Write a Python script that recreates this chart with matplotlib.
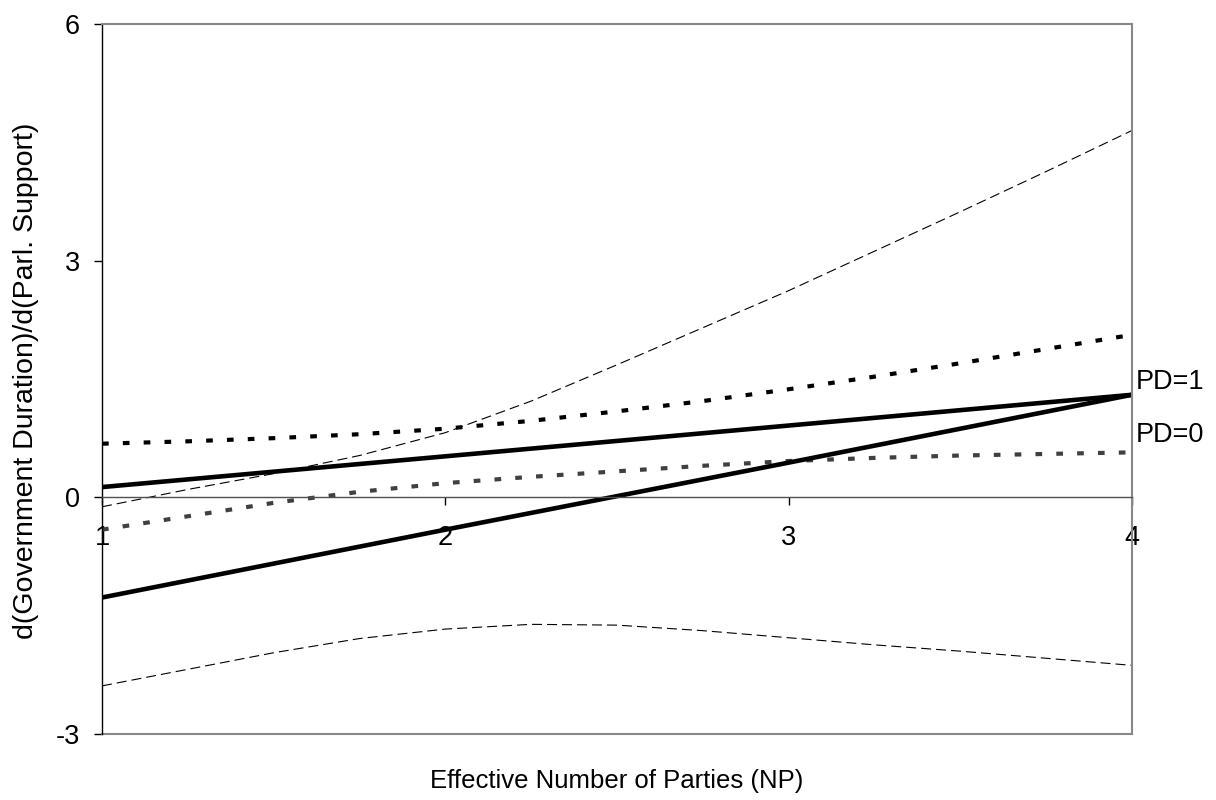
import matplotlib.pyplot as plt

plt.rcParams["font.family"] = ["Liberation Sans", "DejaVu Sans"]
plt.rcParams["axes.unicode_minus"] = False

# effective number of parties, grid where the bounds were evaluated
np_grid = [1.0, 1.25, 1.5, 1.75, 2.0, 2.25, 2.5, 2.75, 3.0, 3.25, 3.5, 3.75, 4.0]

# marginal effect lines
np_line = [1, 2, 3, 4]
effect_pd1 = [0.13, 0.52, 0.91, 1.30]
effect_pd0 = [-1.27, -0.41, 0.44, 1.30]

# confidence bounds, PD=1
upper_pd1 = [0.68, 0.71, 0.75, 0.80, 0.87, 0.97, 1.09, 1.22, 1.37, 1.53, 1.70, 1.88, 2.06]
lower_pd1 = [-0.41, -0.24, -0.07, 0.07, 0.18, 0.26, 0.33, 0.40, 0.46, 0.50, 0.53, 0.55, 0.57]

# confidence bounds, PD=0
upper_pd0 = [-0.12, 0.10, 0.30, 0.53, 0.82, 1.22, 1.68, 2.15, 2.62, 3.12, 3.62, 4.13, 4.65]
lower_pd0 = [-2.39, -2.18, -1.97, -1.79, -1.67, -1.61, -1.62, -1.69, -1.78, -1.87, -1.95, -2.04, -2.13]

y_ticks = [-3, 0, 3, 6]
x_ticks = [1, 2, 3, 4]

fig = plt.figure(figsize=(12.16, 8), dpi=100)
ax = fig.add_axes([0.0839, 0.0825, 0.847, 0.8875])

# thin dashed bounds for PD=0
for vals in (upper_pd0, lower_pd0):
    ax.plot(np_grid, vals, color="black", lw=0.8, linestyle=(0, (9, 4.5)))

# heavy dotted bounds for PD=1
ax.plot(np_grid, upper_pd1, color="black", lw=3, linestyle=(0, (1.6, 3.4)),
        dash_capstyle="butt")
ax.plot(np_grid, lower_pd1, color="#404040", lw=3, linestyle=(0, (1.6, 3.4)),
        dash_capstyle="butt")

# point estimates
ax.plot(np_line, effect_pd1, color="black", lw=3.3, solid_capstyle="butt")
ax.plot(np_line, effect_pd0, color="black", lw=3.3, solid_capstyle="butt")

ax.set_xlim(1, 4)
ax.set_ylim(-3, 6)

# x axis crosses at zero, plot area keeps a grey frame
ax.spines["bottom"].set_position(("data", 0))
ax.spines["bottom"].set_color("#505050")
ax.spines["bottom"].set_linewidth(1.0)
ax.spines["left"].set_color("black")
ax.spines["left"].set_linewidth(1.0)
for side in ("top", "right"):
    ax.spines[side].set_color("#888888")
    ax.spines[side].set_linewidth(1.5)
ax.plot([0, 1], [0, 0], transform=ax.transAxes, color="#888888", lw=1.5,
        clip_on=False)

ax.set_xticks(x_ticks)
ax.set_yticks(y_ticks)
ax.tick_params(axis="x", direction="out", length=6, width=1, color="black",
               pad=14, labelsize=19.5)
ax.tick_params(axis="y", direction="out", length=6, width=1, color="black",
               pad=10, labelsize=19.5)

ax.text(4.012, 1.46, "PD=1", fontsize=19.5, ha="left", va="center")
ax.text(4.012, 0.79, "PD=0", fontsize=19.5, ha="left", va="center")

fig.text(0.507, 0.024, "Effective Number of Parties (NP)", fontsize=18.5,
         ha="center", va="center")
fig.text(0.021, 0.524, "d(Government Duration)/d(Parl. Support)", fontsize=20.5,
         ha="center", va="center", rotation=90)

fig.savefig("out.png", dpi=100, facecolor="white")
